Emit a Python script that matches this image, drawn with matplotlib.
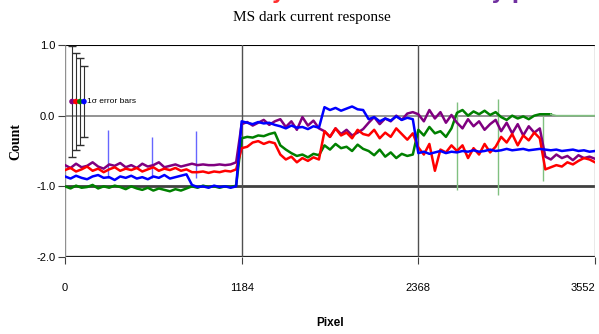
import numpy as np
import matplotlib
matplotlib.use("Agg")
import matplotlib.pyplot as plt

# pixel grid (every 37 pixels, 0..3552)
pixel = np.arange(0, 3553, 37)

blue = [-0.86, -0.89, -0.85, -0.88, -0.90, -0.86, -0.84, -0.88, -0.87, -0.91, -0.86, -0.88,
        -0.85, -0.89, -0.87, -0.90, -0.86, -0.88, -0.84, -0.89, -0.87, -0.85, -0.83,
        -0.98, -1.01, -1.00, -1.02, -0.99, -1.01, -1.00, -1.02, -1.00,
        -0.08, -0.10, -0.12, -0.09, -0.11, -0.10, -0.13,
        -0.15, -0.18, -0.14, -0.17, -0.16, -0.19, -0.15, -0.17,
        0.12, 0.08, 0.11, 0.07, 0.10, 0.13, 0.09, 0.08,
        -0.05, -0.02, -0.08, -0.04, -0.07, -0.01, -0.06, -0.03, -0.05,
        -0.53, -0.51, -0.54, -0.52, -0.50, -0.53, -0.51, -0.52, -0.50, -0.51, -0.49,
        -0.51, -0.50, -0.48, -0.50, -0.49, -0.47, -0.49, -0.48, -0.47, -0.49, -0.48,
        -0.47, -0.48, -0.49, -0.48, -0.50, -0.49, -0.48, -0.50, -0.49, -0.51, -0.50]

purple = [-0.70, -0.74, -0.68, -0.73, -0.71, -0.66, -0.72, -0.75, -0.69, -0.71, -0.67, -0.73,
          -0.70, -0.74, -0.68, -0.72, -0.70, -0.66, -0.73, -0.71, -0.69, -0.72, -0.70, -0.68,
          -0.70, -0.69, -0.70, -0.70, -0.69, -0.70, -0.69, -0.66,
          -0.12, -0.09, -0.14, -0.10, -0.06, -0.13, -0.08,
          -0.05, -0.16, -0.08, -0.20, -0.02, -0.14, -0.07, -0.18,
          -0.22, -0.30, -0.18, -0.26, -0.20, -0.28, -0.24, -0.19,
          -0.10, -0.02, -0.12, -0.04, -0.08, 0.00, -0.06, 0.03, 0.05,
          0.02, -0.08, 0.08, -0.04, 0.05, -0.10, 0.01,
          -0.10, -0.18, -0.05, -0.15, -0.08, -0.20, -0.12, -0.06,
          -0.22, -0.10, -0.25, -0.12, -0.28, -0.15, -0.24, -0.18,
          -0.58, -0.62, -0.55, -0.60, -0.57, -0.63, -0.56, -0.60, -0.58, -0.61]

red = [-0.77, -0.74, -0.79, -0.76, -0.72, -0.78, -0.75, -0.80, -0.76, -0.73, -0.78, -0.75,
       -0.77, -0.74, -0.79, -0.76, -0.73, -0.78, -0.75, -0.77, -0.74, -0.78, -0.76, -0.80,
       -0.80, -0.79, -0.81, -0.79, -0.80, -0.78, -0.79, -0.76,
       -0.46, -0.44,
       -0.38, -0.36, -0.40, -0.37, -0.39,
       -0.55, -0.62, -0.58, -0.66, -0.60, -0.64, -0.59, -0.62,
       -0.22, -0.30, -0.18, -0.28, -0.24, -0.32, -0.20, -0.26,
       -0.28, -0.20, -0.32, -0.24, -0.30, -0.18, -0.26, -0.34, -0.25,
       -0.45, -0.55, -0.40, -0.78, -0.48, -0.52, -0.42,
       -0.50, -0.42, -0.60, -0.46, -0.55, -0.40, -0.52, -0.44,
       -0.30, -0.38, -0.26, -0.42, -0.28, -0.35, -0.24, -0.32,
       -0.76, -0.73, -0.70, -0.72, -0.66, -0.69, -0.64, -0.60, -0.62, -0.66]

green = [-1.00, -1.03, -0.99, -1.02, -1.01, -0.98, -1.03, -1.00, -1.02, -0.99, -1.01, -1.04,
         -1.00, -1.03, -1.05, -1.02, -1.06, -1.03, -1.05, -1.07, -1.04, -1.06, -1.03, -1.00,
         -1.02, -0.99, -1.01, -1.00, -1.02, -1.00, -1.01, -0.99,
         -0.32, -0.30, -0.31, -0.28, -0.29, -0.26, -0.24,
         -0.42, -0.48, -0.53, -0.57, -0.55, -0.59, -0.54, -0.56,
         -0.42, -0.48, -0.40, -0.46, -0.44, -0.50, -0.41, -0.47,
         -0.50, -0.56, -0.48, -0.58, -0.52, -0.60, -0.54, -0.57, -0.55,
         -0.20, -0.28, -0.16, -0.25, -0.22, -0.30, -0.18,
         0.04, 0.08, 0.00, 0.06, 0.02, 0.07, 0.01, 0.05,
         -0.02, -0.06, 0.00, -0.04, -0.01, -0.05, 0.00, 0.02,
         0.02, 0.02,
         0.0, 0.0, 0.0, 0.0, 0.0, 0.0, 0.0, 0.0]

# single-pixel spikes
blue_spike_x = [287, 581, 881]
blue_spike_lo = [-0.88, -0.88, -0.88]
blue_spike_hi = [-0.20, -0.30, -0.21]
green_spike_x = [2624, 2904, 3205]
green_spike_lo = [-1.05, -1.12, -0.93]
green_spike_hi = [0.20, 0.23, 0.00]

# 1 sigma error bars
err_x = [47, 73, 100, 127]
err_y = [0.2, 0.2, 0.2, 0.2]
err_size = [0.79, 0.69, 0.62, 0.50]
err_colors = ['#800080', '#ff0000', '#008000', '#0000ff']

narrow = ['Liberation Sans', 'DejaVu Sans']

fig = plt.figure(figsize=(5.99, 3.34), dpi=100)
ax = fig.add_axes([65/599, 1-257/334, 530/599, 212/334])

for s in ax.spines.values():
    s.set_visible(False)

ax.axhline(1.0, color='black', lw=1.5, zorder=1)
ax.axhline(0.0, color='#808080', lw=1.2, zorder=1)
ax.axhline(-1.0, color='#404040', lw=2.0, zorder=1)
ax.axhline(-2.0, color='#202020', lw=1.6, zorder=1)
ax.axvline(0, color='#909090', lw=1.0, zorder=1)
ax.axvline(1184, color='#505050', lw=1.0, zorder=1)
ax.axvline(2368, color='#505050', lw=1.0, zorder=1)
ax.axvline(3552, color='#909090', lw=1.0, zorder=1)

ax.vlines(blue_spike_x, blue_spike_lo, blue_spike_hi, color='#4040ff', lw=1, alpha=0.8, zorder=2)
ax.vlines(green_spike_x, green_spike_lo, green_spike_hi, color='#80c080', lw=1, zorder=2)

ax.plot(pixel[:89], green[:89], color='#008000', lw=1.8, zorder=3)
ax.plot(pixel[88:], green[88:], color='#80c080', lw=1.2, zorder=3)
ax.plot(pixel, purple, color='#800080', lw=1.8, zorder=4)
ax.plot(pixel, red, color='#ff0000', lw=1.8, zorder=5)
ax.plot(pixel, blue, color='#0000ff', lw=1.8, zorder=6)

ax.errorbar(err_x, err_y, yerr=err_size, fmt='none', ecolor='#303030', elinewidth=0.8, capsize=3, zorder=7)
ax.scatter(err_x, err_y, c=err_colors, s=9, zorder=8)
ax.text(150, 0.2, '1\u03c3 error bars', fontsize=6, family=narrow, va='center', zorder=8)

ax.set_xlim(0, 3552)
ax.set_ylim(-2.0, 1.0)
ax.set_xticks([0, 1184, 2368, 3552])
ax.set_xticklabels(['0', '1184', '2368', '3552'], family=narrow, fontsize=8)
ax.get_xticklabels()[-1].set_horizontalalignment('right')
ax.set_yticks([1.0, 0.0, -1.0, -2.0])
ax.set_yticklabels(['1.0', '0.0', '-1.0', '-2.0'], family=narrow, fontsize=8)
ax.tick_params(axis='x', length=5, pad=14, color='#404040')
ax.tick_params(axis='y', length=5, pad=2, color='#404040')

ax.set_xlabel('Pixel', fontsize=8.5, fontweight='bold', family=narrow, labelpad=17)
fig.text(16/599, 1-142/334, 'Count', rotation=90, fontsize=10, fontweight='bold',
         family='Liberation Serif', ha='center', va='center')
fig.text(312/599, 1-17/334, 'MS dark current response', fontsize=11,
         family='Liberation Serif', ha='center', va='center')

# slide title cut off at the top
fig.text(470/599, 1+1/334, 'Stability of dark current', fontsize=15, fontweight='bold',
         color='#ff3030', ha='right', va='baseline')
fig.text(476/599, 1+1/334, 'by pixel', fontsize=15, fontweight='bold',
         color='#7030a0', ha='left', va='baseline')

fig.savefig('out.png', dpi=100)
